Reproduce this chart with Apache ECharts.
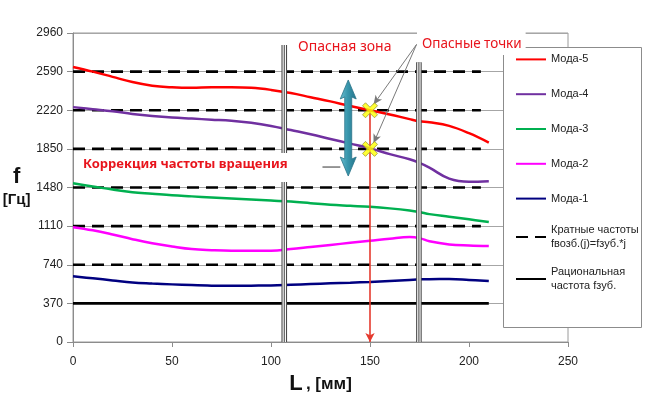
<!DOCTYPE html>
<html>
<head>
<meta charset="utf-8">
<script src="https://cdn.jsdelivr.net/npm/echarts@6/dist/echarts.min.js"></script>
<style>
  html, body { margin: 0; padding: 0; background: #fff; }
  #chart { width: 648px; height: 398px; }
</style>
</head>
<body>
<div id="chart"></div>
<script>
// значения
const lengths = [0, 10, 20, 30, 40, 50, 60, 70, 80, 90, 100, 110, 120, 130, 140, 150, 160, 170, 175, 180, 190, 200, 210];
const moda5 = [2635, 2590, 2540, 2490, 2455, 2440, 2435, 2440, 2440, 2435, 2415, 2385, 2345, 2305, 2260, 2220, 2180, 2135, 2115, 2105, 2070, 2000, 1910];
const moda4 = [2250, 2230, 2210, 2185, 2165, 2150, 2140, 2130, 2120, 2100, 2070, 2030, 1990, 1945, 1900, 1855, 1800, 1750, 1715, 1670, 1565, 1535, 1540];
const moda3 = [1520, 1490, 1460, 1435, 1420, 1405, 1395, 1385, 1375, 1365, 1355, 1345, 1330, 1315, 1305, 1295, 1280, 1260, 1245, 1225, 1200, 1175, 1150];
const moda2 = [1100, 1070, 1030, 985, 945, 915, 890, 880, 875, 875, 875, 890, 910, 930, 950, 970, 990, 1005, 995, 965, 935, 925, 920];
const moda1 = [630, 610, 590, 570, 560, 552, 545, 540, 538, 540, 542, 548, 555, 562, 568, 575, 585, 595, 600, 602, 603, 595, 585];

const yTicks = [0, 370, 740, 1110, 1480, 1850, 2220, 2590, 2960];
const multiples = [740, 1110, 1480, 1850, 2220, 2590];
const multiplesEnd = 206;
const rational = 370;
const rationalEnd = 210;

// тройные линии: [x, y верх, y низ]
const barriers = [[106.7, 2845, 1811], [106.7, 1533, 0], [174.7, 2680, 0]];
const dangerX = 150;
const dangerPoints = [2220, 1850];
const tealArrow = [[139, 2510, 1590]];
const pointerFrom = [173.5, 2850];
const pointerTo = [[151.8, 2275], [151.8, 1905]];
const smallDash = [[126, 1676], [135, 1676]];

const modaNames = ['Мода-5', 'Мода-4', 'Мода-3', 'Мода-2', 'Мода-1'];
const modaColors = ['#ff0000', '#7030a0', '#00b050', '#ff00ff', '#000080'];
const modaValues = [moda5, moda4, moda3, moda2, moda1];
const multName = 'Кратные частоты\nfвозб.(j)=fзуб.*j';
const ratName = 'Рациональная\nчастота fзуб.';

const chart = echarts.init(document.getElementById('chart'));

const modaSeries = modaNames.map((name, i) => ({
    name: name,
    type: 'line',
    smooth: 0.4,
    symbol: 'none',
    z: 3,
    lineStyle: {color: modaColors[i], width: 2.5},
    itemStyle: {color: modaColors[i]},
    data: lengths.map((x, k) => [x, modaValues[i][k]])
}));

const multData = [];
multiples.forEach(m => {
    multData.push([0, m], [multiplesEnd, m], [multiplesEnd, '-']);
});

const barrierData = [];
barriers.forEach(b => {
    barrierData.push([b[0], b[1]], [b[0], b[2]], [b[0], '-']);
});

const barrierLayer = (width, color) => ({
    type: 'line',
    symbol: 'none',
    silent: true,
    z: 5,
    lineStyle: {color: color, width: width},
    data: barrierData
});

const option = {
    animation: false,
    backgroundColor: '#fff',
    textStyle: {fontFamily: 'Liberation Sans, Arial, sans-serif'},
    grid: {
        left: 73,
        right: 80,
        top: 33,
        bottom: 56,
        outerBoundsMode: 'none',
        containLabel: false,
        show: true,
        borderColor: '#9a9a9a',
        borderWidth: 1
    },
    xAxis: {
        type: 'value',
        min: 0,
        max: 250,
        interval: 50,
        name: '{b|L} {r|, [мм]}',
        nameLocation: 'middle',
        nameGap: 31,
        nameTextStyle: {
            rich: {
                b: {fontSize: 22, fontWeight: 'bold', color: '#111', fontFamily: 'Liberation Sans'},
                r: {fontSize: 17, fontWeight: 'bold', color: '#111', fontFamily: 'Liberation Sans'}
            }
        },
        axisLine: {lineStyle: {color: '#8c8c8c'}},
        axisTick: {show: true, length: 5, lineStyle: {color: '#8c8c8c'}},
        axisLabel: {color: '#222', fontSize: 12, margin: 14},
        splitLine: {show: false}
    },
    yAxis: {
        type: 'value',
        min: yTicks[0],
        max: yTicks[yTicks.length - 1],
        interval: 370,
        name: '{f|f}\n{u|[Гц]}',
        nameLocation: 'middle',
        nameRotate: 0,
        nameGap: 56,
        nameTextStyle: {
            align: 'center',
            verticalAlign: 'middle',
            rich: {
                f: {fontSize: 22, fontWeight: 'bold', color: '#111', lineHeight: 24, align: 'center', fontFamily: 'Liberation Sans'},
                u: {fontSize: 15, fontWeight: 'bold', color: '#111', lineHeight: 22, align: 'center', fontFamily: 'Liberation Sans'}
            }
        },
        axisLine: {show: true, lineStyle: {color: '#8c8c8c'}},
        axisTick: {show: true, length: 6, lineStyle: {color: '#8c8c8c'}},
        axisLabel: {color: '#222', fontSize: 12, margin: 10, formatter: v => String(v)},
        splitLine: {show: true, lineStyle: {color: '#a6a6a6', width: 1}}
    },
    legend: {
        data: modaNames.concat([multName, ratName]),
        orient: 'vertical',
        left: 503,
        top: 47,
        padding: [2, 8, 10, 12],
        itemWidth: 30,
        itemHeight: 26,
        itemGap: 14,
        itemStyle: {opacity: 0},
        selectedMode: false,
        z: 10,
        textStyle: {fontSize: 11, lineHeight: 14, color: '#222', fontFamily: 'Liberation Sans'}
    },
    graphic: [
        {
            type: 'rect',
            z: 8,
            shape: {x: 503.5, y: 47.5, width: 138, height: 280},
            style: {fill: '#fff', stroke: '#8c8c8c', lineWidth: 1}
        },
        {
            type: 'text',
            z: 12,
            left: 298,
            top: 40,
            style: {text: 'Опасная зона', fill: '#e8141c', fontSize: 14, fontFamily: 'Noto Sans'}
        },
        {
            type: 'text',
            z: 12,
            left: 417,
            top: 29,
            style: {
                text: 'Опасные точки', fill: '#e8141c', fontSize: 13.5, fontFamily: 'Noto Sans',
                backgroundColor: '#fff', padding: [8, 4, 4, 5]
            }
        },
        {
            type: 'text',
            z: 12,
            left: 83,
            top: 158,
            style: {text: 'Коррекция частоты вращения', fill: '#e8141c', fontSize: 13, fontWeight: 'bold', fontFamily: 'Noto Sans'}
        }
    ],
    series: modaSeries.concat([
        {
            name: multName,
            type: 'line',
            symbol: 'none',
            z: 2,
            lineStyle: {color: '#000', width: 2.6, type: [12, 7]},
            itemStyle: {color: '#000'},
            data: multData
        },
        {
            name: ratName,
            type: 'line',
            symbol: 'none',
            z: 2,
            lineStyle: {color: '#000', width: 2.6},
            itemStyle: {color: '#000'},
            data: [[0, rational], [rationalEnd, rational]]
        },
        barrierLayer(5.6, '#4a4a4a'),
        barrierLayer(3.4, '#ffffff'),
        barrierLayer(1.1, '#4a4a4a'),
        {
            type: 'line',
            symbol: 'none',
            silent: true,
            z: 4,
            lineStyle: {color: '#333', width: 1},
            data: smallDash
        },
        {
            type: 'line',
            data: [],
            silent: true,
            z: 6,
            markLine: {
                silent: true,
                animation: false,
                label: {show: false},
                emphasis: {disabled: true},
                data: [
                    [
                        {coord: [dangerX, dangerPoints[0]], symbol: 'none', lineStyle: {color: '#e53a2e', width: 1.6, type: 'solid'}},
                        {coord: [dangerX, 0], symbol: 'arrow', symbolSize: [7, 9]}
                    ]
                ].concat(pointerTo.map(p => [
                    {coord: pointerFrom, symbol: 'none', lineStyle: {color: '#7a7a7a', width: 1, type: 'solid'}},
                    {coord: p, symbol: 'arrow', symbolSize: [6, 9]}
                ]))
            }
        },
        {
            type: 'custom',
            silent: true,
            z: 7,
            data: tealArrow,
            encode: {x: 0, y: [1, 2]},
            renderItem: (params, api) => {
                const top = api.coord([api.value(0), api.value(1)]);
                const bot = api.coord([api.value(0), api.value(2)]);
                const cx = top[0];
                const hw = 8, sw = 3.5, hl = 19;
                const pts = [
                    [cx, top[1]],
                    [cx + hw, top[1] + hl],
                    [cx + sw, top[1] + hl - 2],
                    [cx + sw, bot[1] - hl + 2],
                    [cx + hw, bot[1] - hl],
                    [cx, bot[1]],
                    [cx - hw, bot[1] - hl],
                    [cx - sw, bot[1] - hl + 2],
                    [cx - sw, top[1] + hl - 2],
                    [cx - hw, top[1] + hl]
                ];
                return {
                    type: 'polygon',
                    shape: {points: pts},
                    style: {
                        fill: new echarts.graphic.LinearGradient(0, 0, 1, 0, [
                            {offset: 0, color: '#6cc0d2'},
                            {offset: 0.45, color: '#3a98ae'},
                            {offset: 1, color: '#23738a'}
                        ]),
                        stroke: '#2a7489',
                        lineWidth: 0.8
                    }
                };
            }
        },
        {
            type: 'scatter',
            silent: true,
            z: 9,
            symbol: 'path://M2,0 L5,3 L8,0 L10,2 L7,5 L10,8 L8,10 L5,7 L2,10 L0,8 L3,5 L0,2 Z',
            symbolSize: 15,
            itemStyle: {color: '#ffff00', borderColor: '#9c9a3c', borderWidth: 1},
            data: dangerPoints.map(v => [dangerX, v])
        }
    ])
};

chart.setOption(option);
</script>
</body>
</html>
